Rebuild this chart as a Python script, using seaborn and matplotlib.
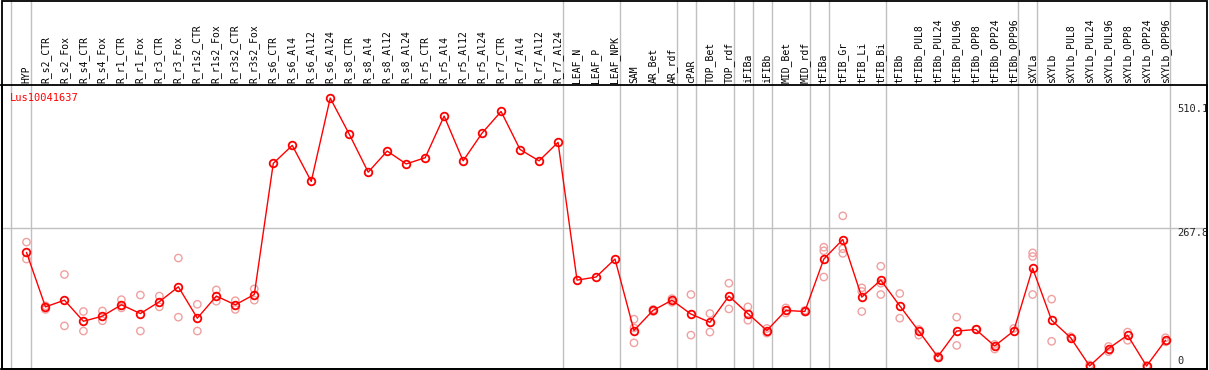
import numpy as np
import pandas as pd
import matplotlib
matplotlib.use("Agg")
import matplotlib.pyplot as plt
import matplotlib.transforms as mtransforms
import seaborn as sns

# sample columns (left to right)
samples = [
    "HYP",
    "R_s2_CTR", "R_s2_Fox", "R_s4_CTR", "R_s4_Fox", "R_r1_CTR", "R_r1_Fox",
    "R_r3_CTR", "R_r3_Fox", "R_r1s2_CTR", "R_r1s2_Fox", "R_r3s2_CTR", "R_r3s2_Fox",
    "R_s6_CTR", "R_s6_Al4", "R_s6_Al12", "R_s6_Al24",
    "R_s8_CTR", "R_s8_Al4", "R_s8_Al12", "R_s8_Al24",
    "R_r5_CTR", "R_r5_Al4", "R_r5_Al12", "R_r5_Al24",
    "R_r7_CTR", "R_r7_Al4", "R_r7_Al12", "R_r7_Al24",
    "LEAF_N", "LEAF_P", "LEAF_NPK",
    "SAM", "AR_Bet", "AR_rdf", "cPAR", "TOP_Bet", "TOP_rdf", "iFIBa", "iFIBb",
    "MID_Bet", "MID_rdf",
    "tFIBa", "tFIB_Gr", "tFIB_Li", "tFIB_Bi", "tFIBb",
    "tFIBb_PUL8", "tFIBb_PUL24", "tFIBb_PUL96", "tFIBb_OPP8", "tFIBb_OPP24", "tFIBb_OPP96",
    "sXYLa", "sXYLb",
    "sXYLb_PUL8", "sXYLb_PUL24", "sXYLb_PUL96", "sXYLb_OPP8", "sXYLb_OPP24", "sXYLb_OPP96",
]

# mean expression per sample
mean_expr = [
    221,
    115, 128, 87, 97, 119, 102, 125, 154, 93, 136, 119, 139,
    394, 429, 359, 521,
    451, 377, 418, 393,
    405, 486, 399, 453,
    495, 421, 399, 435,
    167, 173, 208,
    69, 108, 128, 101, 85, 136, 102, 69, 108, 106,
    208, 246, 134, 167, 117,
    68, 18, 68, 71, 39, 68,
    190, 89,
    55, 0, 34, 60, 0, 50,
]

# replicate values per sample (empty = no replicates shown)
rep_expr = [
    [241, 208],
    [117, 110], [178, 78], [106, 68], [107, 88], [129, 113], [138, 68],
    [136, 115], [210, 95], [120, 68], [148, 126], [127, 110], [150, 128],
    [], [], [], [],
    [], [], [], [],
    [], [], [], [],
    [], [], [], [],
    [], [], [],
    [91, 45, 74], [110, 106], [131, 124], [139, 60], [102, 66], [161, 111], [115, 89], [73, 64],
    [113, 103], [108, 105],
    [231, 224, 173], [292, 228, 219], [152, 145, 106], [194, 161, 139], [141, 93],
    [71, 60], [19, 16], [95, 40], [71], [42, 33], [73],
    [220, 213, 139], [130, 48],
    [57], [2], [38, 28], [66, 50], [1], [55, 47],
]

# group separators drawn just right of these columns
separators = ["HYP", "R_r7_Al24", "LEAF_NPK", "AR_rdf", "cPAR", "TOP_rdf", "iFIBa",
              "iFIBb", "MID_rdf", "tFIBa", "tFIB_Bi", "tFIBb_OPP96", "sXYLa", "sXYLb_OPP96"]

y_labels = [510.1, 267.8, 0]
gene = "Lus10041637"

df_mean = pd.DataFrame({"pos": np.arange(len(samples)), "sample": samples, "expr": mean_expr})
rows = []
for i, vals in enumerate(rep_expr):
    for v in vals:
        rows.append({"pos": i, "expr": v})
df_rep = pd.DataFrame(rows)

sns.set_style("white")
plt.rcParams["font.family"] = ["DejaVu Sans Mono", "DejaVu Sans"]

W, H = 1209, 370
fig = plt.figure(figsize=(W / 100, H / 100), dpi=100)
ax = fig.add_axes([1.5 / W, 1 / H, 1205.5 / W, 284 / H])

px = 19.0
ax.set_xlim(-25 / px, 1181.5 / px)
scale = 0.5142
ax.set_ylim(-3 / scale, 281 / scale)

# horizontal grid at middle value
ax.axhline(267.8, color="#c0c0c0", lw=1, zorder=0)

# vertical separators, through label area too
top_frac = 369 / 284
ax.axvline(-0.8, ymin=0, ymax=top_frac, color="#c0c0c0", lw=1, clip_on=False, zorder=0)
for s in separators:
    ax.axvline(samples.index(s) + 0.25, ymin=0, ymax=top_frac, color="#c0c0c0",
               lw=1, clip_on=False, zorder=0)

sns.scatterplot(data=df_rep, x="pos", y="expr", ax=ax, marker="o", s=28,
                facecolors="none", edgecolor="#f0a0a0", linewidth=1.0, zorder=2,
                legend=False)
sns.lineplot(data=df_mean, x="pos", y="expr", ax=ax, color="red", lw=1.0,
             marker="o", ms=5.5, mfc="none", mec="red", mew=1.3, zorder=3,
             legend=False)

ax.set_xlabel("")
ax.set_ylabel("")
ax.set_xticks([])
ax.set_yticks([])
for sp in ax.spines.values():
    sp.set_color("black")
    sp.set_linewidth(1.3)

# column labels above the plot
trans = mtransforms.blended_transform_factory(ax.transData, ax.transAxes)
for i, s in enumerate(samples):
    ax.text(i, 1 + 2 / 284, s, rotation=90, ha="center", va="bottom",
            fontsize=7, transform=trans, color="black")

# value labels on the right
ytrans = mtransforms.blended_transform_factory(ax.transAxes, ax.transData)
for v in y_labels:
    ax.text(0.9755, v, f"{v:g}" if v == 0 else f"{v}", ha="left",
            va="bottom" if v == 0 else "top", fontsize=7.5, transform=ytrans)

ax.text(8 / 1205.5, 1 - 8 / 284, gene, color="red", fontsize=7.5,
        ha="left", va="top", transform=ax.transAxes)

# outer frame including the label area
fig.add_artist(plt.Rectangle((1.5 / W, 1 / H), 1205.5 / W, 368.5 / H, fill=False,
                             edgecolor="black", lw=1.3, transform=fig.transFigure))

fig.savefig("out.png", dpi=100)
